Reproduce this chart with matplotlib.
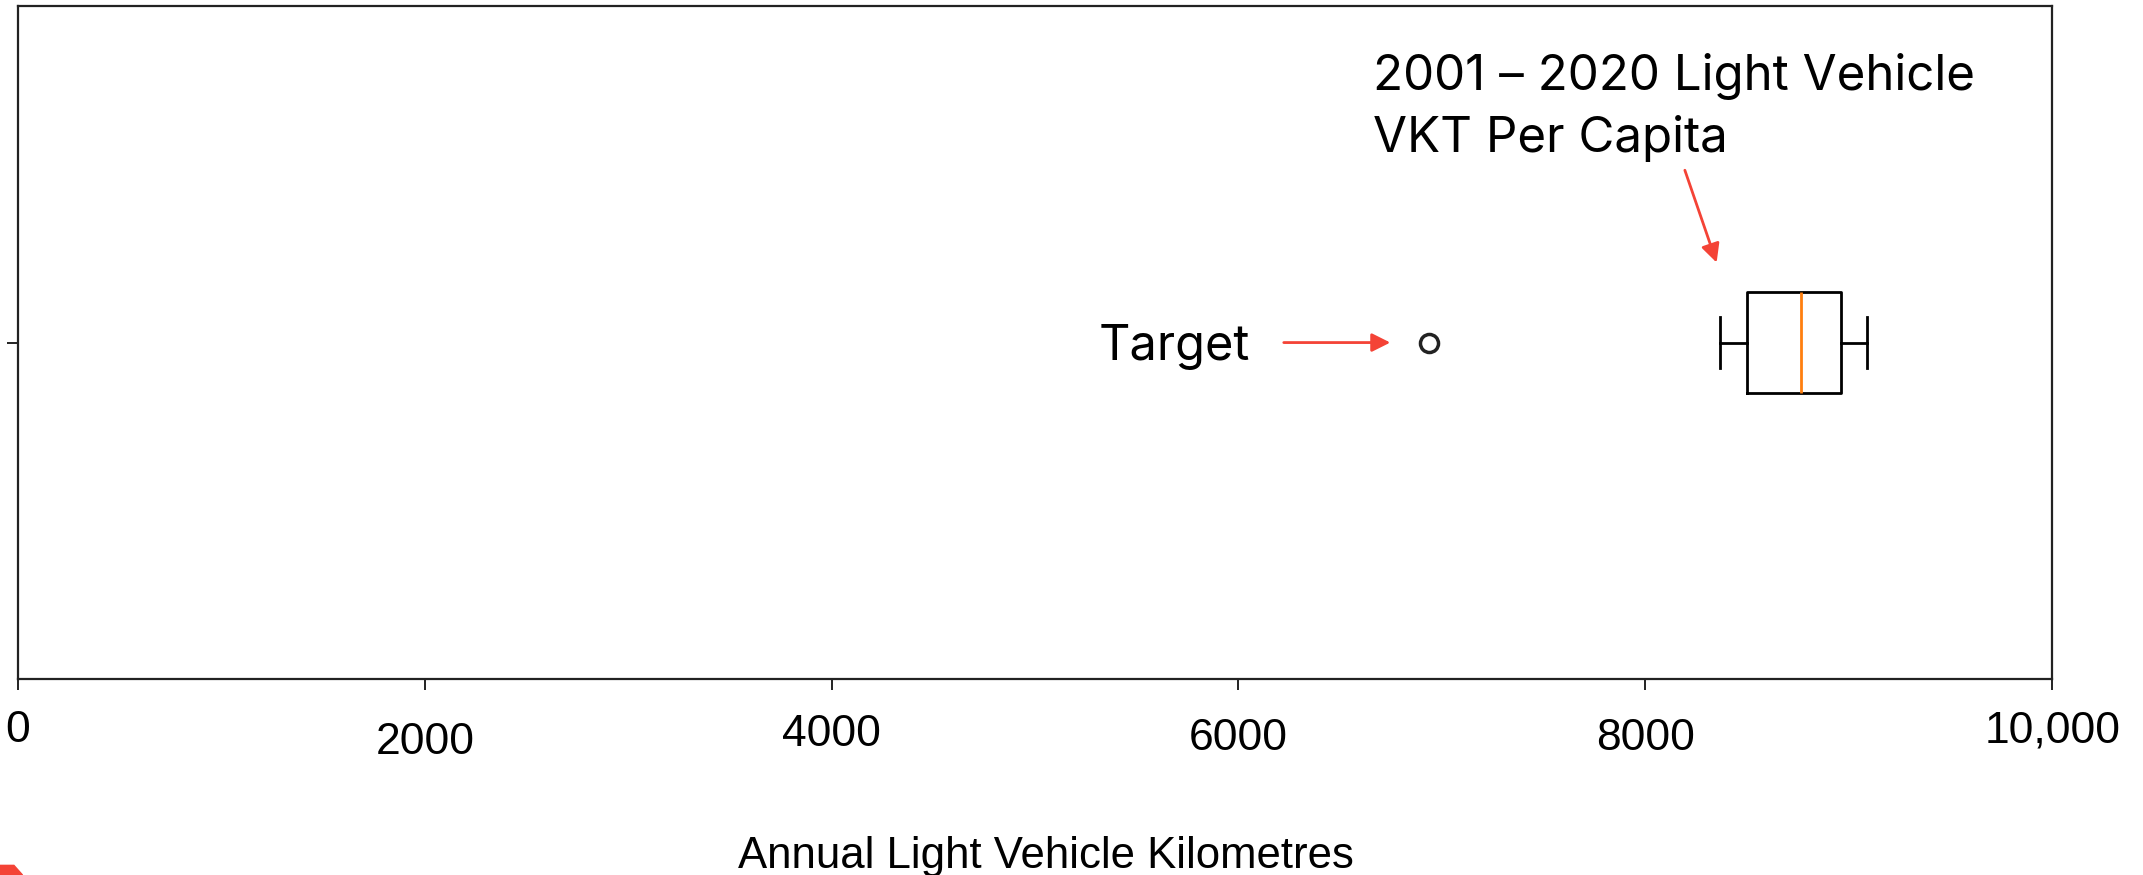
import matplotlib.pyplot as plt
from matplotlib.patches import Polygon

# box statistics for 2001-2020 light vehicle VKT per capita (km)
whisker_low = 8368
quartile_1 = 8498
median = 8766
quartile_3 = 8963
whisker_high = 9090
target = [6937]

tick_values = [0, 2000, 4000, 6000, 8000, 10000]
tick_labels = ["0", "2000", "4000", "6000", "8000", "10,000"]
label_drop = [52, 63, 56, 59, 59, 52]  # pixels below the axis, as in the slide

red = "#f44336"
label_font = ["Liberation Sans", "DejaVu Sans"]
note_font = ["Inter", "DejaVu Sans"]

fig = plt.figure(figsize=(21.43, 8.75), dpi=100)
ax = fig.add_axes([0.0084, 0.224, 0.9492, 0.769])

stats = [dict(whislo=whisker_low, q1=quartile_1, med=median, q3=quartile_3,
              whishi=whisker_high, fliers=target)]
ax.bxp(stats, positions=[1], widths=0.15, vert=False,
       boxprops=dict(color="black", linewidth=2.0),
       whiskerprops=dict(color="black", linewidth=2.0),
       capprops=dict(color="black", linewidth=2.0),
       medianprops=dict(color="#ff7f0e", linewidth=2.0),
       flierprops=dict(marker="o", markersize=13, markerfacecolor="none",
                       markeredgecolor="#222222", markeredgewidth=2.5))

ax.set_xlim(0, 10000)
ax.set_ylim(0.5, 1.5)
ax.set_xticks(tick_values, labels=[""] * len(tick_values))
ax.set_yticks([1], labels=[""])
ax.tick_params(length=8, width=1.4, color="#222222")
for s in ax.spines.values():
    s.set_linewidth(1.6)
    s.set_color("#222222")

for v, lab, d in zip(tick_values, tick_labels, label_drop):
    ax.annotate(lab, xy=(v, 0), xycoords=("data", "axes fraction"),
                xytext=(0, -d), textcoords="offset pixels",
                ha="center", va="center", fontsize=32, family=label_font)

fig.text(0.488, 0.021, "Annual Light Vehicle Kilometres", ha="center",
         va="center", fontsize=31.5, family=label_font)

# annotations
ax.annotate("", xy=(target[0] - 177, 1), xytext=(target[0] - 728, 1),
            arrowprops=dict(arrowstyle="-|>", color=red, lw=2,
                            mutation_scale=28))
ax.text(target[0] - 880, 0.993, "Target", ha="right", va="center",
        fontsize=35, family=note_font)

ax.annotate("", xy=(8355, 1.115), xytext=(8190, 1.26),
            arrowprops=dict(arrowstyle="-|>", color=red, lw=2,
                            mutation_scale=28))
ax.text(0.666, 0.93, "2001 – 2020 Light Vehicle\nVKT Per Capita",
        transform=ax.transAxes, ha="left", va="top", fontsize=35.5,
        family=note_font, linespacing=1.4)

# small red fragment at the bottom-left edge of the slide
fig.patches.append(Polygon([[0.0, 0.0], [0.0105, 0.0], [0.0065, 0.011],
                            [0.0, 0.011]], closed=True, transform=fig.transFigure,
                           color=red))

fig.savefig("out.png", dpi=100)
